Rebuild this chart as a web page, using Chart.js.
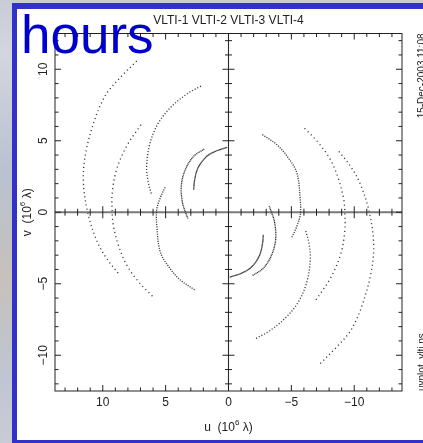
<!DOCTYPE html>
<html>
<head>
<meta charset="utf-8">
<script src="https://cdn.jsdelivr.net/npm/chart.js@4"></script>
<style>
  html, body { margin: 0; padding: 0; }
  body {
    width: 423px; height: 443px; position: relative; overflow: hidden;
    background: linear-gradient(180deg, #c9ccd4 0%, #d3d6de 12%, #b9c2d2 38%, #c6c1bb 62%, #bfc5d2 85%, #c9ccd6 100%);
  }
  #frame { position: absolute; left: 12px; top: 3px; width: 411px; height: 440px; background: #3232c8; }
  #paper { position: absolute; left: 17px; top: 9px; width: 406px; height: 431px; background: #ffffff; }
  #wrap  { position: absolute; left: 0; top: 0; width: 423px; height: 443px; }
</style>
</head>
<body>
<div id="frame"></div>
<div id="paper"></div>
<div id="wrap"><canvas id="uv"></canvas></div>
<script>
// uv tracks (u, v in units of 10^6 lambda), one per baseline; the
// conjugate half of each track is (-u, -v)
const trackA_u = [7.30, 8.50, 9.57, 10.10, 10.64, 11.31, 11.55, 11.20, 10.51, 9.71, 8.77];
const trackA_v = [10.58, 9.52, 8.47, 7.65, 6.48, 4.37, 2.30, 0.00, -1.92, -3.21, -4.26];

const trackB_u = [6.96, 8.11, 8.91, 9.25, 9.25, 9.17, 8.77, 8.11, 7.17, 6.03];
const trackB_v = [6.13, 4.61, 2.97, 1.33, 0.00, -0.87, -2.27, -3.67, -4.84, -5.89];

const trackC_u = [2.19, 3.17, 4.51, 5.57, 6.24, 6.51, 6.37, 6.11];
const trackC_v = [8.82, 8.35, 7.41, 6.25, 4.84, 3.21, 2.04, 1.22];

const trackD_u = [5.04, 5.44, 5.71, 5.70, 5.44, 4.77, 3.84, 2.69];
const trackD_v = [1.75, 0.98, 0.16, -0.96, -2.74, -3.79, -4.73, -5.43];

const trackE_u = [1.92, 2.77, 3.44, 3.76, 3.65, 3.44, 3.23];
const trackE_v = [4.42, 3.91, 2.97, 1.80, 0.63, 0.05, -0.44];

const trackF_u = [0.10, 1.04, 1.80, 2.43, 2.69, 2.77];
const trackF_v = [4.54, 4.26, 3.85, 3.09, 2.27, 1.57];

// sampling step of each track, as dot spacing along the curve (px)
const trackDotGap = [4.2, 4.4, 3.0, 2.4, 1.7, 1.3];

const uTickValues = [10, 5, 0, -5, -10];
const uTickLabels = ['10', '5', '0', '\u22125', '\u221210'];
const vTickValues = [10, 5, 0, -5, -10];
const vTickLabels = ['10', '5', '0', '\u22125', '\u221210'];

const plotTitle = 'VLTI-1 VLTI-2 VLTI-3 VLTI-4';
const overlayWord = 'hours';
const stampTop = '15-Dec-2003 11:08';
const stampBottom = 'uvplot_vlti.ps';

const uLimit = 13.8;
const vLimit = 12.5;

const tracks = [
  [trackA_u, trackA_v], [trackB_u, trackB_v], [trackC_u, trackC_v],
  [trackD_u, trackD_v], [trackE_u, trackE_v], [trackF_u, trackF_v]
];

const datasets = [];
tracks.forEach(([us, vs], i) => {
  const direct = us.map((u, k) => ({ x: u, y: vs[k] }));
  const conj = us.map((u, k) => ({ x: -u, y: -vs[k] }));
  const gap = trackDotGap[i];
  [direct, conj].forEach(pts => {
    datasets.push({
      data: pts,
      showLine: true,
      borderColor: 'rgba(40,40,40,0.95)',
      borderWidth: 1.3,
      borderDash: [1.1, gap - 1.1],
      borderCapStyle: 'butt',
      tension: 0.35,
      pointRadius: 0,
      pointHoverRadius: 0,
      fill: false
    });
  });
});

const FONT = '"Liberation Sans", Arial, sans-serif';

function line(ctx, x1, y1, x2, y2) {
  ctx.beginPath(); ctx.moveTo(x1, y1); ctx.lineTo(x2, y2); ctx.stroke();
}

// axis title of the form "<name>  (10^6 λ)" with a raised exponent
function drawAxisTitle(ctx, name, cx, cy) {
  const big = '12px ' + FONT, small = '8px ' + FONT;
  const p1 = name + '  (10', p2 = '6', p3 = ' \u03bb)';
  ctx.font = big; const w1 = ctx.measureText(p1).width, w3 = ctx.measureText(p3).width;
  ctx.font = small; const w2 = ctx.measureText(p2).width;
  let x = cx - (w1 + w2 + w3) / 2;
  ctx.textAlign = 'left'; ctx.textBaseline = 'middle';
  ctx.font = big; ctx.fillText(p1, x, cy); x += w1;
  ctx.font = small; ctx.fillText(p2, x, cy - 5); x += w2;
  ctx.font = big; ctx.fillText(p3, x, cy);
}

const pgFrame = {
  id: 'pgFrame',
  beforeDatasetsDraw(chart) {
    const ctx = chart.ctx, xs = chart.scales.x, ys = chart.scales.y;
    const { left, right, top, bottom } = chart.chartArea;
    const x0 = xs.getPixelForValue(0), y0 = ys.getPixelForValue(0);
    ctx.save();
    ctx.strokeStyle = '#7a7a7a'; ctx.lineWidth = 2;
    line(ctx, left, y0, right, y0);
    ctx.strokeStyle = '#2a2a2a'; ctx.lineWidth = 1.1;
    line(ctx, x0, top, x0, bottom);
    ctx.restore();
  },
  afterDatasetsDraw(chart) {
    const ctx = chart.ctx, xs = chart.scales.x, ys = chart.scales.y;
    const { left, right, top, bottom } = chart.chartArea;
    const x0 = xs.getPixelForValue(0), y0 = ys.getPixelForValue(0);
    ctx.save();
    ctx.strokeStyle = '#222'; ctx.lineWidth = 1;
    ctx.strokeRect(left, top, right - left, bottom - top);

    for (let t = -13; t <= 13; t++) {
      const px = xs.getPixelForValue(t);
      const L = (t % 5 === 0) ? 6 : 3.5;
      line(ctx, px, bottom, px, bottom - L);
      line(ctx, px, top, px, top + L);
      if (t !== 0) line(ctx, px, y0 - L, px, y0 + L);
    }
    for (let t = -12; t <= 12; t++) {
      const py = ys.getPixelForValue(t);
      const L = (t % 5 === 0) ? 6 : 3.5;
      line(ctx, left, py, left + L, py);
      line(ctx, right, py, right - L, py);
      if (t !== 0) line(ctx, x0 - L, py, x0 + L, py);
    }

    ctx.fillStyle = '#222';
    ctx.font = '12px ' + FONT;
    ctx.textAlign = 'center'; ctx.textBaseline = 'middle';
    uTickValues.forEach((v, i) => ctx.fillText(uTickLabels[i], xs.getPixelForValue(v), bottom + 12));
    vTickValues.forEach((v, i) => {
      ctx.save();
      ctx.translate(left - 11, ys.getPixelForValue(v));
      ctx.rotate(-Math.PI / 2);
      ctx.fillText(vTickLabels[i], 0, 0);
      ctx.restore();
    });

    drawAxisTitle(ctx, 'u', (left + right) / 2, bottom + 37);
    ctx.save();
    ctx.translate(left - 27, (top + bottom) / 2);
    ctx.rotate(-Math.PI / 2);
    drawAxisTitle(ctx, 'v', 0, 0);
    ctx.restore();

    ctx.font = '12px ' + FONT;
    ctx.textAlign = 'center'; ctx.textBaseline = 'middle';
    ctx.fillText(plotTitle, (left + right) / 2, top - 13);

    ctx.font = '10px ' + FONT;
    ctx.textBaseline = 'alphabetic';
    ctx.save();
    ctx.translate(425, top); ctx.rotate(-Math.PI / 2);
    ctx.textAlign = 'right'; ctx.fillText(stampTop, 0, 0);
    ctx.restore();
    ctx.save();
    ctx.translate(425, bottom); ctx.rotate(-Math.PI / 2);
    ctx.textAlign = 'left'; ctx.fillText(stampBottom, 0, 0);
    ctx.restore();

    ctx.fillStyle = '#0000cc';
    ctx.font = '53px ' + FONT;
    ctx.textAlign = 'left'; ctx.textBaseline = 'alphabetic';
    ctx.fillText(overlayWord, 21, 53);
    ctx.restore();
  }
};

new Chart(document.getElementById('uv'), {
  type: 'scatter',
  data: { datasets },
  options: {
    responsive: true,
    maintainAspectRatio: false,
    devicePixelRatio: 1,
    animation: false,
    events: [],
    layout: { padding: { left: 55, top: 33.5, right: 21, bottom: 52 } },
    plugins: { legend: { display: false }, tooltip: { enabled: false }, title: { display: false } },
    scales: {
      x: { type: 'linear', min: -uLimit, max: uLimit, reverse: true, display: false },
      y: { type: 'linear', min: -vLimit, max: vLimit, display: false }
    }
  },
  plugins: [pgFrame]
});
</script>
</body>
</html>
